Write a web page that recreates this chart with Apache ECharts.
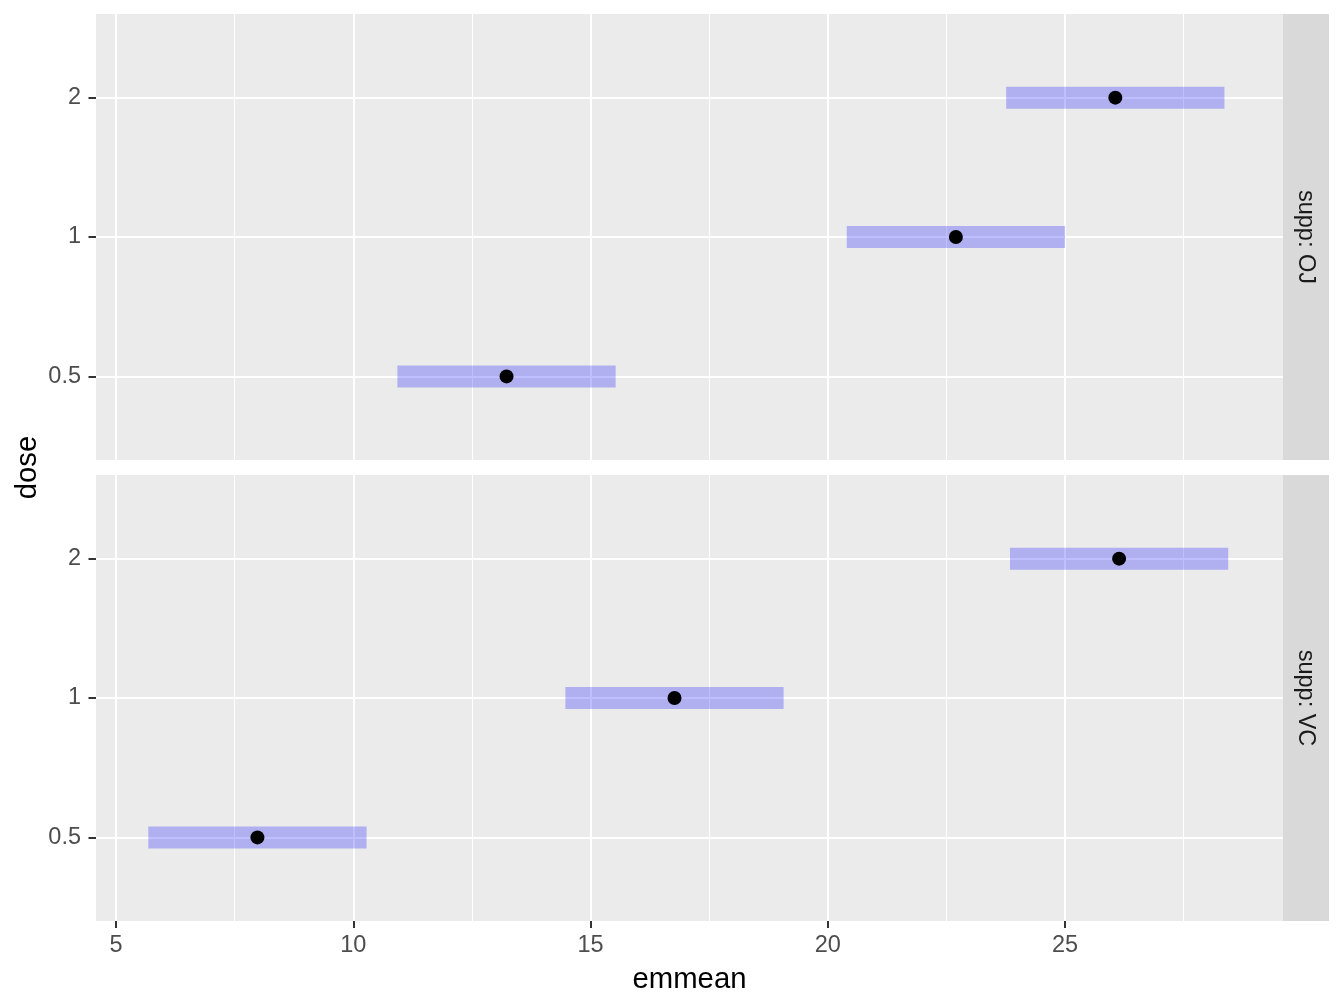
<!DOCTYPE html>
<html><head><meta charset="utf-8">
<script src="https://cdn.jsdelivr.net/npm/echarts@6.0.0/dist/echarts.min.js"></script>
<style>html,body{margin:0;padding:0;background:#fff}#c{width:1344px;height:1008px}</style>
</head><body><div id="c"></div>
<script>
const doses = ['0.5', '1', '2'];
const panels = ['supp: OJ', 'supp: VC'];
const ojMean = [13.23, 22.70, 26.06];
const ojLower = [10.93, 20.40, 23.76];
const ojUpper = [15.53, 25.00, 28.36];
const vcMean = [7.98, 16.77, 26.14];
const vcLower = [5.68, 14.47, 23.84];
const vcUpper = [10.28, 19.07, 28.44];
const xTicks = [5, 10, 15, 20, 25];
const xMinor = [7.5, 12.5, 17.5, 22.5, 27.5];
const yPos = [1, 2, 3];

const FONT = '"Liberation Sans", Arial, sans-serif';
const XMIN = 4.578, XMAX = 29.594;
const L = 96, W = 1187, H = 446, TOPS = [14, 475];

const chart = echarts.init(document.getElementById('c'), null, {renderer: 'canvas'});

function majorX(g, showLabels) {
  return {
    type: 'value', gridIndex: g, min: XMIN, max: XMAX,
    axisLine: {show: false},
    axisTick: {show: showLabels, customValues: xTicks, length: 7, lineStyle: {color: '#333333', width: 2}},
    axisLabel: {show: showLabels, customValues: xTicks, margin: 13, color: '#4D4D4D', fontSize: 23.5, fontFamily: FONT},
    splitLine: {show: true, lineStyle: {color: '#FFFFFF', width: 2}}
  };
}
function minorX(g) {
  return {
    type: 'value', gridIndex: g, min: XMIN, max: XMAX,
    axisLine: {show: false},
    axisTick: {show: false, customValues: xMinor},
    axisLabel: {show: false, customValues: xMinor},
    splitLine: {show: true, lineStyle: {color: '#FFFFFF', width: 1}}
  };
}
function yAx(g) {
  return {
    type: 'value', gridIndex: g, min: 0.4, max: 3.6,
    axisLine: {show: false},
    axisTick: {show: true, customValues: yPos, length: 7.5, lineStyle: {color: '#333333', width: 2}},
    axisLabel: {customValues: yPos, formatter: v => doses[Math.round(v) - 1], margin: 15, color: '#4D4D4D', fontSize: 23.5, fontFamily: FONT},
    splitLine: {show: true, lineStyle: {color: '#FFFFFF', width: 2}}
  };
}

function ciItem(params, api) {
  const lo = api.coord([api.value(0), api.value(2)]);
  const hi = api.coord([api.value(1), api.value(2)]);
  const h = 22;
  return {type: 'rect', shape: {x: lo[0], y: lo[1] - h / 2, width: hi[0] - lo[0], height: h},
          style: {fill: 'rgba(0,0,255,0.25)'}};
}

const groups = [
  {mean: ojMean, lower: ojLower, upper: ojUpper},
  {mean: vcMean, lower: vcLower, upper: vcUpper}
];

const series = [];
groups.forEach((gr, g) => {
  series.push({
    type: 'custom', xAxisIndex: g * 2, yAxisIndex: g, renderItem: ciItem,
    encode: {x: [0, 1], y: 2},
    data: gr.lower.map((lo, i) => [lo, gr.upper[i], yPos[i]]),
    silent: true, z: 2
  });
  series.push({
    type: 'scatter', xAxisIndex: g * 2, yAxisIndex: g,
    data: gr.mean.map((m, i) => [m, yPos[i]]),
    symbol: 'circle', symbolSize: 14, itemStyle: {color: '#000000', opacity: 1},
    silent: true, z: 3
  });
});

const graphics = [];
TOPS.forEach((t, g) => {
  graphics.push({type: 'rect', shape: {x: L + W, y: t, width: 46, height: H}, style: {fill: '#D9D9D9'}, silent: true});
  graphics.push({type: 'text', x: 1305, y: t + H / 2, rotation: -Math.PI / 2,
    style: {text: panels[g], fontSize: 23.5, fontFamily: FONT, fill: '#1A1A1A', align: 'center', verticalAlign: 'middle'}, silent: true});
});
graphics.push({type: 'text', x: L + W / 2, y: 980,
  style: {text: 'emmean', fontSize: 29.3, fontFamily: FONT, fill: '#000000', align: 'center', verticalAlign: 'middle'}, silent: true});
graphics.push({type: 'text', x: 28, y: (TOPS[0] + TOPS[1] + H) / 2, rotation: Math.PI / 2,
  style: {text: 'dose', fontSize: 29.3, fontFamily: FONT, fill: '#000000', align: 'center', verticalAlign: 'middle'}, silent: true});

chart.setOption({
  animation: false,
  backgroundColor: '#FFFFFF',
  grid: TOPS.map(t => ({left: L, top: t, width: W, height: H, show: true, backgroundColor: '#EBEBEB', borderWidth: 0})),
  xAxis: [majorX(0, false), minorX(0), majorX(1, true), minorX(1)],
  yAxis: [yAx(0), yAx(1)],
  series: series,
  graphic: graphics
});
</script></body></html>
